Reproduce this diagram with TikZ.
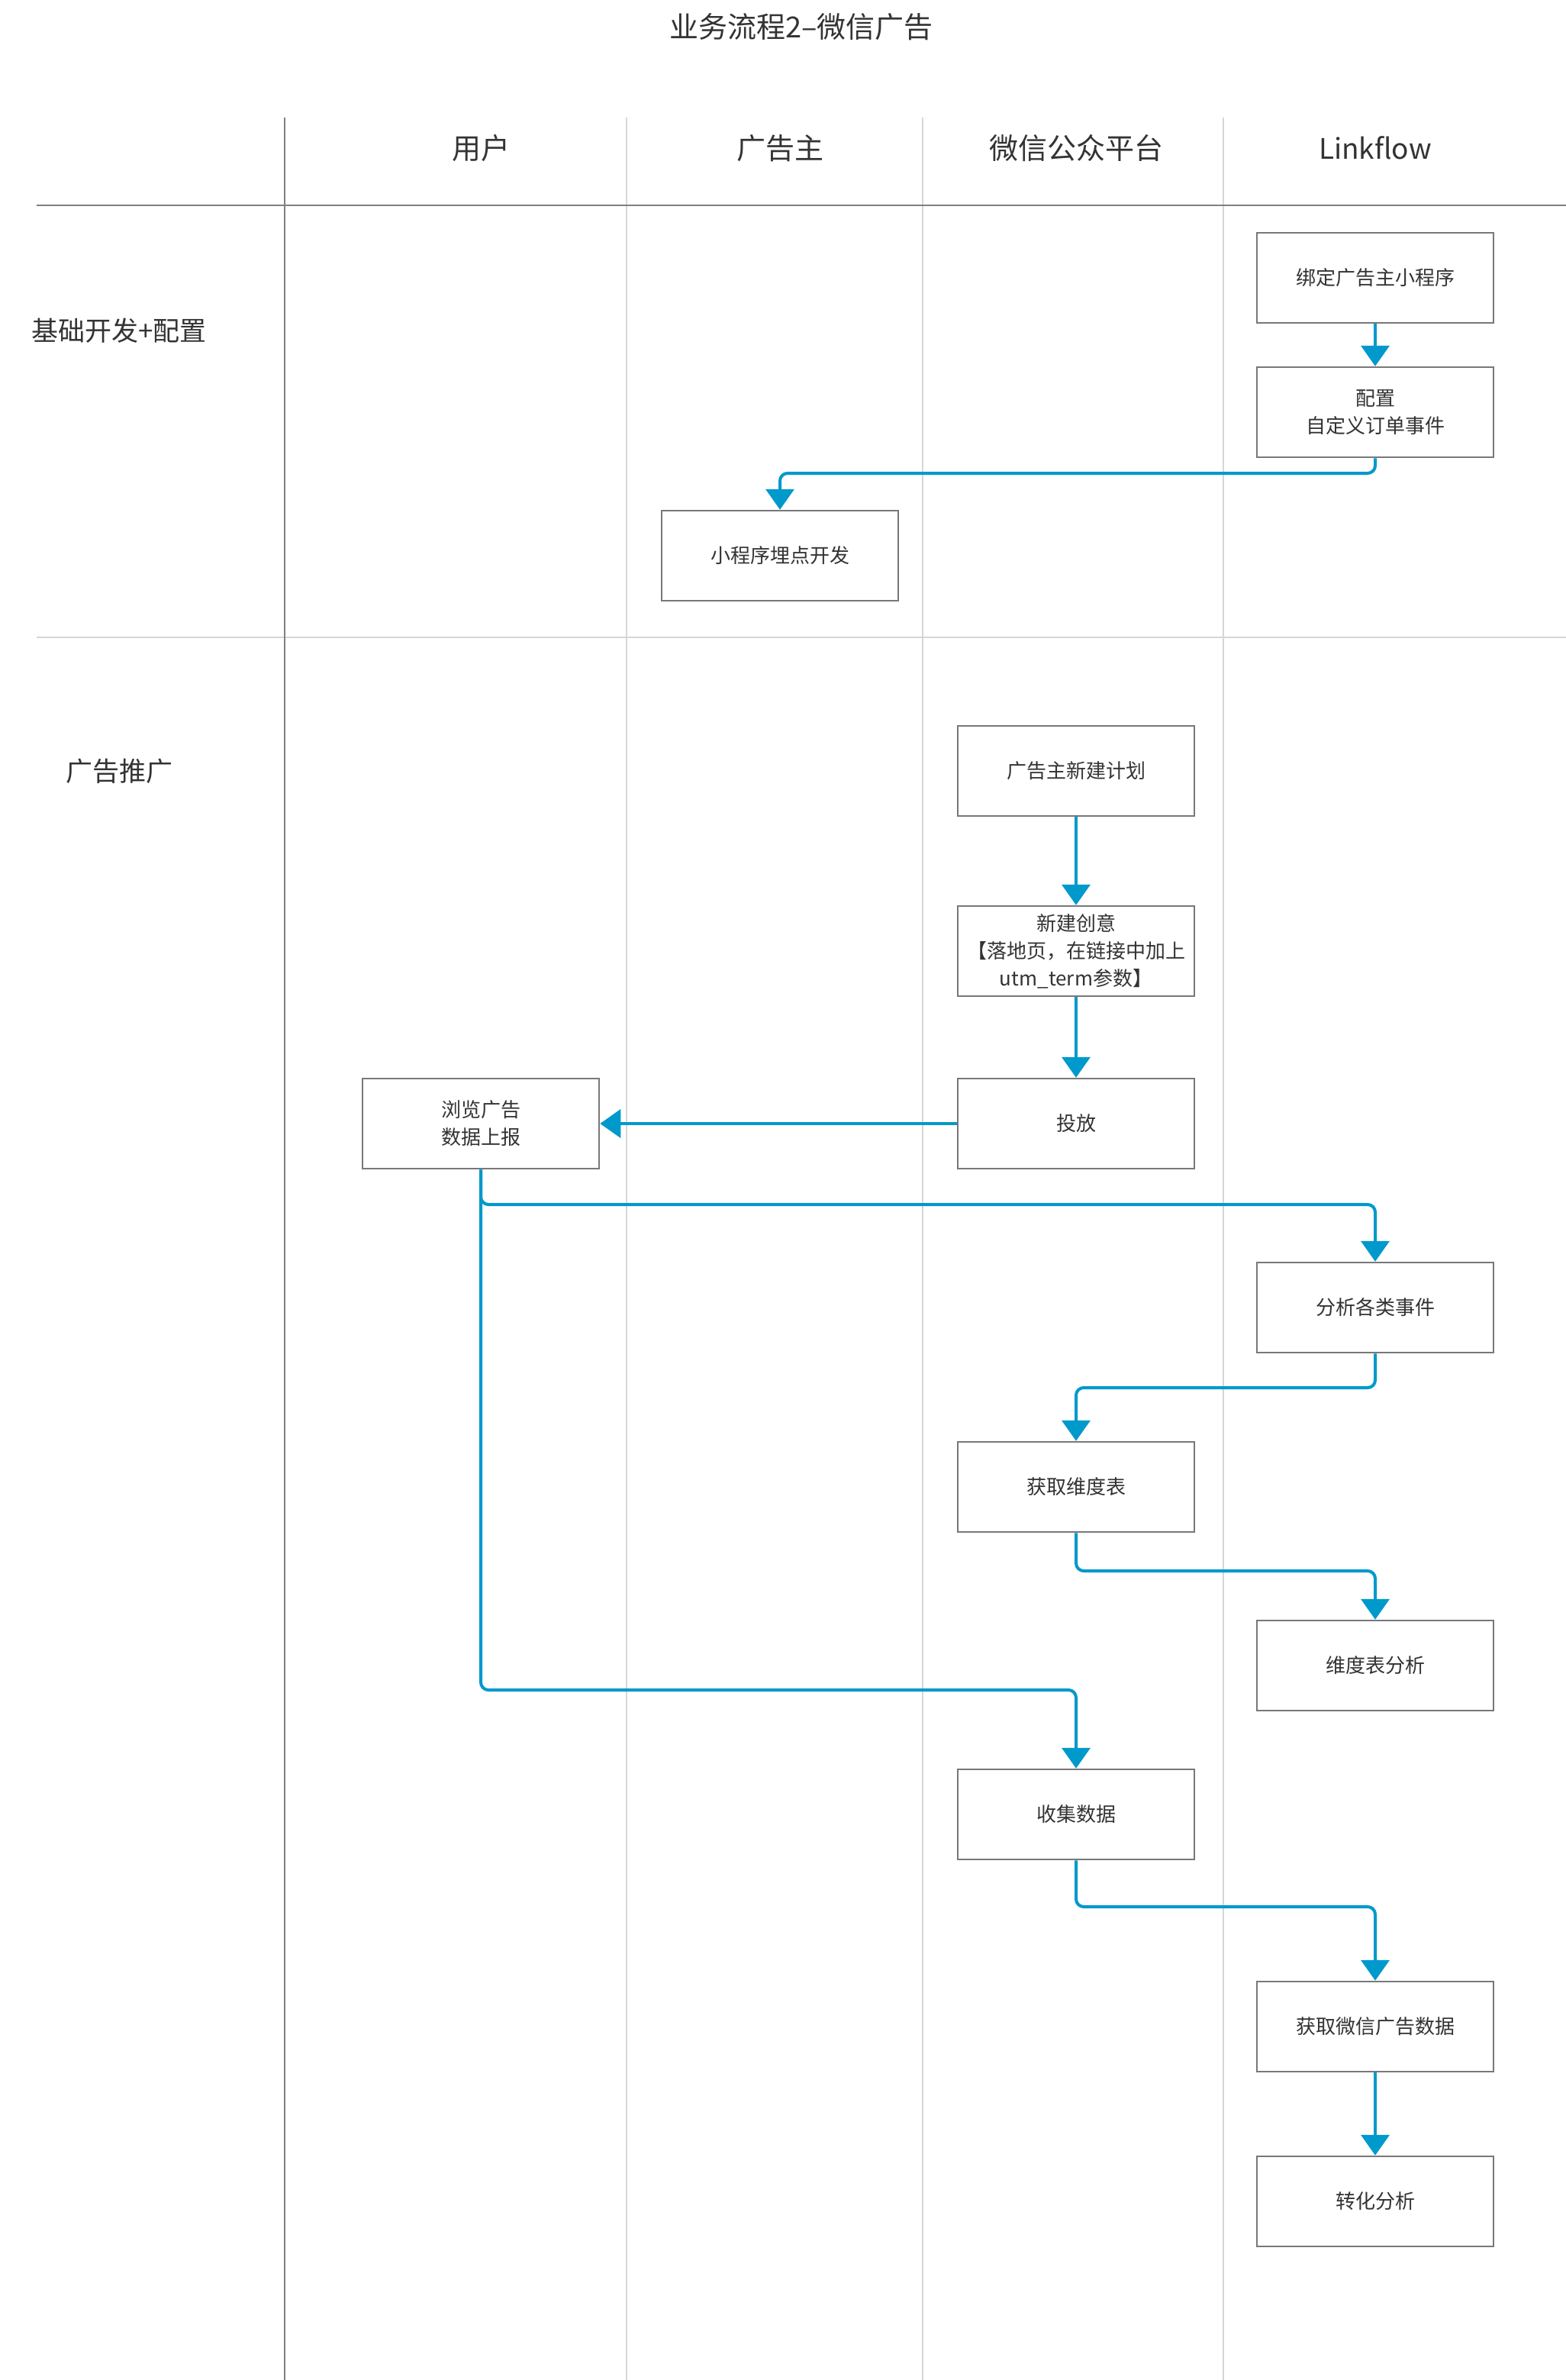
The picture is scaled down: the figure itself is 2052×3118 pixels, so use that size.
\documentclass[tikz,border=0pt]{standalone}
\usepackage{fontspec}
\setmainfont{Noto Sans CJK SC}
\usetikzlibrary{arrows.meta}
\definecolor{flowblue}{RGB}{0,153,204}
\definecolor{boxgray}{RGB}{120,120,120}
\definecolor{txtdark}{RGB}{51,51,51}
\definecolor{darkline}{RGB}{128,128,128}
\definecolor{laneline}{RGB}{214,214,214}
\tikzset{
  stepbox/.style={draw=boxgray, line width=2.5pt, fill=white, minimum width=310pt, minimum height=118pt,
    inner sep=0pt, align=center, text=txtdark, font=\fontsize{26}{36}\selectfont},
  conn/.style={draw=flowblue, line width=4pt, rounded corners=10pt,
    -{Triangle[width=37pt,length=27pt]}},
  lanelabel/.style={text=txtdark, font=\fontsize{38}{46}\selectfont, inner sep=0pt},
  latinlabel/.style={text=txtdark, font=\fontsize{37}{46}\selectfont, inner sep=0pt},
  rowlabel/.style={text=txtdark, font=\fontsize{35}{42}\selectfont, inner sep=0pt},
  titlelabel/.style={text=txtdark, font=\fontsize{38}{46}\selectfont, inner sep=0pt},
}
\begin{document}
\begin{tikzpicture}[x=1pt,y=-1pt]
\useasboundingbox (0,0) rectangle (2052,3118);
\fill[white] (0,0) rectangle (2052,3118);

% grid lines
\coordinate (gTL) at (373,154);
\coordinate (gBL) at (373,3118);
\coordinate (h1L) at (48,269);
\coordinate (h1R) at (2052,269);
\coordinate (h2L) at (48,835);
\coordinate (h2R) at (2052,835);
\coordinate (v1T) at (821,154);
\coordinate (v1B) at (821,3118);
\coordinate (v2T) at (1209,154);
\coordinate (v2B) at (1209,3118);
\coordinate (v3T) at (1603,154);
\coordinate (v3B) at (1603,3118);
\draw[laneline, line width=2pt] (v1T) -- (v1B);
\draw[laneline, line width=2pt] (v2T) -- (v2B);
\draw[laneline, line width=2pt] (v3T) -- (v3B);
\draw[laneline, line width=2pt] (h2L) -- (h2R);
\draw[darkline, line width=2.5pt] (h1L) -- (h1R);
\draw[darkline, line width=2.5pt] (gTL) -- (gBL);

% title and labels
\node[titlelabel] (title) at (1050,35) {业务流程2–微信广告};
\node[lanelabel] (hUser) at (630,194) {用户};
\node[lanelabel] (hAdv) at (1022,194) {广告主};
\node[lanelabel] (hWx) at (1410,194) {微信公众平台};
\node[latinlabel] (hLf) at (1802,194) {Linkflow};
\node[rowlabel] (r1) at (156,433) {基础开发+配置};
\node[rowlabel] (r2) at (156,1010) {广告推广};

% boxes
\node[stepbox] (b1) at (1802,364) {绑定广告主小程序};
\node[stepbox] (b2) at (1802,540) {配置\\自定义订单事件};
\node[stepbox] (b3) at (1022,728) {小程序埋点开发};
\node[stepbox] (c1) at (1410,1010) {广告主新建计划};
\node[stepbox] (c2) at (1410,1246) {新建创意\\【落地页，在链接中加上\\utm\_term参数】};
\node[stepbox] (c3) at (1410,1472) {投放};
\node[stepbox] (u1) at (630,1472) {浏览广告\\数据上报};
\node[stepbox] (l1) at (1802,1713) {分析各类事件};
\node[stepbox] (c4) at (1410,1948) {获取维度表};
\node[stepbox] (l2) at (1802,2182) {维度表分析};
\node[stepbox] (c5) at (1410,2377) {收集数据};
\node[stepbox] (l3) at (1802,2655) {获取微信广告数据};
\node[stepbox] (l4) at (1802,2884) {转化分析};

% waypoints
\coordinate (y620) at (0,620);
\coordinate (y1578) at (0,1578);
\coordinate (y1818) at (0,1818);
\coordinate (y2058) at (0,2058);
\coordinate (y2214) at (0,2214);
\coordinate (y2498) at (0,2498);

% connectors
\draw[conn] (b1) -- (b2);
\draw[conn] (b2.south) -- (b2.south |- y620) -| (b3.north);
\draw[conn] (c1) -- (c2);
\draw[conn] (c2) -- (c3);
\draw[conn] (c3.west) -- (u1.east);
\draw[conn] (u1.south) -- (u1.south |- y2214) -| (c5.north);
\draw[conn] (u1.south) -- (u1.south |- y1578) -| (l1.north);
\draw[conn] (l1.south) -- (l1.south |- y1818) -| (c4.north);
\draw[conn] (c4.south) -- (c4.south |- y2058) -| (l2.north);
\draw[conn] (c5.south) -- (c5.south |- y2498) -| (l3.north);
\draw[conn] (l3) -- (l4);
\end{tikzpicture}
\end{document}
